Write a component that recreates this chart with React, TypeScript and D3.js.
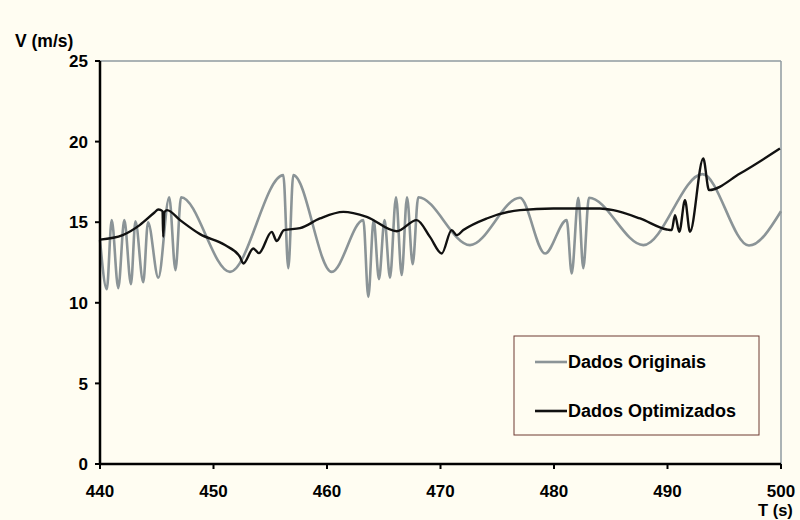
import * as d3 from 'd3';

// series values (time in s, speed in m/s)
const timeOriginal = [
  440.0, 440.6, 441.03, 441.61, 442.14, 442.73, 443.12, 443.81, 444.23, 445.14,
  446.1, 446.65, 447.14, 451.45, 456.15, 456.59, 457.03, 460.41, 463.2, 463.64,
  464.11, 464.58, 465.07, 465.55, 466.08, 466.58, 467.05, 467.55, 468.04, 472.6,
  477.0, 479.21, 481.12, 481.56, 482.14, 482.58, 483.08, 487.87, 493.08, 497.18, 500.0,
];
const speedOriginal = [
  13.9, 10.85, 15.13, 10.91, 15.13, 11.16, 15.06, 11.28, 15.0, 11.56,
  16.55, 12.03, 16.55, 11.92, 17.92, 12.15, 17.92, 11.92, 15.13, 10.37,
  15.13, 11.47, 15.13, 11.56, 16.55, 11.72, 16.55, 12.4, 16.55, 13.58,
  16.52, 13.06, 15.13, 11.82, 16.52, 12.15, 16.52, 13.58, 17.98, 13.55, 15.68,
];

const timeOptimized = [
  440.0, 442.0, 443.5, 444.8, 445.14, 445.51, 445.57, 445.67, 445.9, 447.05,
  448.81, 451.01, 452.33, 452.63, 453.51, 454.0, 455.13, 455.57, 456.21, 457.62,
  459.38, 461.44, 463.5, 466.14, 467.9, 469.07, 470.11, 470.98, 471.43, 472.01,
  474.07, 477.0, 479.94, 484.05, 485.22, 487.58, 489.93, 490.37, 490.66, 491.04,
  491.54, 491.98, 493.15, 493.66, 496.39, 499.91,
];
const speedOptimized = [
  13.92, 14.2, 14.82, 15.6, 15.79, 15.69, 14.09, 15.62, 15.75, 15.13,
  14.26, 13.58, 12.85, 12.44, 13.37, 13.08, 14.4, 13.83, 14.51, 14.63,
  15.23, 15.64, 15.33, 14.44, 15.13, 14.09, 13.06, 14.51, 14.2, 14.51,
  15.23, 15.75, 15.85, 15.85, 15.75, 15.23, 14.55, 14.51, 15.44, 14.4,
  16.37, 14.4, 18.95, 16.99, 18.02, 19.57,
];

const xTicks = [440, 450, 460, 470, 480, 490, 500];
const yTicks = [0, 5, 10, 15, 20, 25];
const seriesNames = ['Dados Originais', 'Dados Optimizados'];
const seriesColors = ['#8b9497', '#111111'];

const W = 800;
const H = 520;
const bg = '#fffdf2';
const font = "'Liberation Sans', Arial, sans-serif";

export default function App() {
  const x = d3.scaleLinear().domain([440, 500]).range([100, 781]);
  const y = d3.scaleLinear().domain([0, 25]).range([464, 61]);

  const line = d3
    .line<[number, number]>()
    .x((d) => x(d[0]))
    .y((d) => y(d[1]))
    .curve(d3.curveMonotoneX);

  const original = timeOriginal.map((t, i) => [t, speedOriginal[i]] as [number, number]);
  const optimized = timeOptimized.map((t, i) => [t, speedOptimized[i]] as [number, number]);

  const [x0, x1] = x.range();
  const [y0, y1] = y.range();

  return (
    <svg
      width={W}
      height={H}
      style={{ position: 'absolute', left: 0, top: 0, display: 'block' }}
      fontFamily={font}
      fontWeight="bold"
    >
      <rect width={W} height={H} fill={bg} />

      {/* frame top/right */}
      <line x1={x0} x2={x1} y1={y1} y2={y1} stroke="#8f9aa0" strokeWidth={1.5} />
      <line x1={x1} x2={x1} y1={y1} y2={y0} stroke="#8f9aa0" strokeWidth={1.5} />

      <path d={line(original) ?? ''} fill="none" stroke={seriesColors[0]} strokeWidth={2.6} />
      <path d={line(optimized) ?? ''} fill="none" stroke={seriesColors[1]} strokeWidth={2.4} />

      {/* axes */}
      <line x1={x0} x2={x0} y1={y1} y2={y0} stroke="#000" strokeWidth={2.5} />
      <line x1={x0} x2={x1} y1={y0} y2={y0} stroke="#000" strokeWidth={2.5} />

      {yTicks.map((v) => (
        <g key={'y' + v}>
          <line x1={x0 - 5} x2={x0} y1={y(v)} y2={y(v)} stroke="#000" strokeWidth={2} />
          <text x={88} y={y(v)} dy="0.36em" textAnchor="end" fontSize={17}>
            {v}
          </text>
        </g>
      ))}
      {xTicks.map((t) => (
        <g key={'x' + t}>
          <line x1={x(t)} x2={x(t)} y1={y0} y2={y0 + 5} stroke="#000" strokeWidth={2} />
          <text x={x(t)} y={497} textAnchor="middle" fontSize={17}>
            {t}
          </text>
        </g>
      ))}

      <text x={15} y={47} fontSize={17.5}>V (m/s)</text>
      <text x={758} y={516} fontSize={16.5}>T (s)</text>

      {/* legend */}
      <rect x={514} y={336} width={245} height={99} fill={bg} stroke="#6e3a32" strokeWidth={1} />
      {seriesNames.map((name, i) => (
        <g key={name} transform={`translate(0, ${362 + i * 49})`}>
          <line x1={535} x2={567} y1={0} y2={0} stroke={seriesColors[i]} strokeWidth={2.6} />
          <text x={568} y={0} dy="0.36em" fontSize={18}>
            {name}
          </text>
        </g>
      ))}
    </svg>
  );
}
